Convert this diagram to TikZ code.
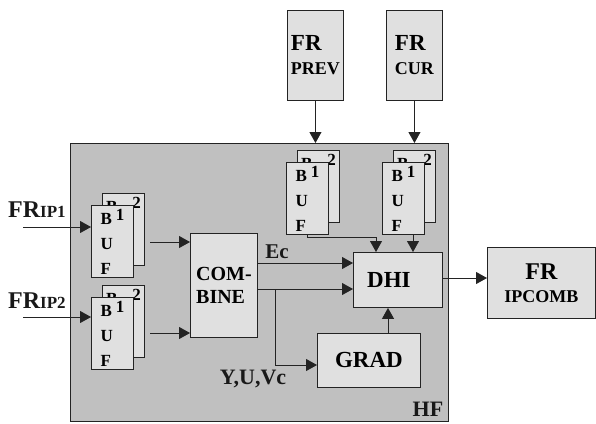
\documentclass[tikz,border=0pt]{standalone}
\usepackage{fontspec}
\setmainfont{Liberation Serif}
\usetikzlibrary{arrows.meta}
\definecolor{boxgray}{RGB}{224,224,224}
\definecolor{hfgray}{RGB}{192,192,192}
\definecolor{linecol}{RGB}{35,35,35}
\tikzset{
  fillbox/.style={draw=linecol, fill=boxgray, line width=0.9pt, inner sep=0pt, anchor=north west},
  bufbox/.style={fillbox, minimum width=42pt, minimum height=72pt, align=left,
    font=\bfseries\fontsize{17}{25}\selectfont},
  conn/.style={line width=0.9pt, draw=linecol, -{Triangle[length=11pt,width=12pt]}},
  lbl/.style={font=\bfseries\fontsize{21}{21}\selectfont, inner sep=0pt, text=black!90},
}
\newcommand\mybuf[3]{%
  \node[bufbox] (#1b) at ({#2+11},{#3-12}) {B\hspace{15pt}\raisebox{4pt}{2}\\\phantom{U}\\\phantom{F}};
  \node[bufbox] (#1f) at (#2,#3) {B\hspace{4pt}\raisebox{4pt}{1}\\U\\F};
}
\begin{document}
\begin{tikzpicture}[x=1pt,y=-1pt]
\useasboundingbox (0,0) rectangle (596,423);
% HF enclosure
\node[fillbox, fill=hfgray, minimum width=378pt, minimum height=278pt] (hf) at (70,143) {};
\node[lbl, font=\bfseries\fontsize{22}{22}\selectfont] (hflbl) at (428,409) {HF};
% frame sources
\node[fillbox, minimum width=56pt, minimum height=90pt, align=left,
  font=\bfseries\fontsize{23}{24}\selectfont] (prev) at (287,10)
  {FR\\{\fontsize{18}{18}\selectfont PREV}};
\node[fillbox, minimum width=56pt, minimum height=90pt, align=left,
  font=\bfseries\fontsize{23}{24}\selectfont] (cur) at (386,10)
  {FR\\{\fontsize{18}{18}\selectfont CUR}};
\node[fillbox, minimum width=108pt, minimum height=71pt, align=center,
  font=\bfseries\fontsize{24}{23}\selectfont] (ipc) at (487,247)
  {FR\\{\fontsize{18}{18}\selectfont IPCOMB}};
% buffers
\mybuf{P}{286}{162}
\mybuf{C}{382}{162}
\mybuf{La}{91}{205}
\mybuf{Lb}{91}{297}
% processing blocks
\node[fillbox, minimum width=67pt, minimum height=104pt, align=left,
  font=\bfseries\fontsize{20}{23}\selectfont] (comb) at (190,233) {COM-\\BINE};
\node[fillbox, minimum width=89pt, minimum height=55pt,
  font=\bfseries\fontsize{23}{23}\selectfont] (dhi) at (353,252) {DHI\kern18pt};
\node[fillbox, minimum width=103pt, minimum height=54pt,
  font=\bfseries\fontsize{23}{23}\selectfont] (grad) at (317,333) {GRAD};
% input labels
\node[lbl, anchor=base west, font=\bfseries\fontsize{24}{24}\selectfont] (ip1) at (8,217)
  {FR{\fontsize{17}{17}\selectfont IP1}};
\node[lbl, anchor=base west, font=\bfseries\fontsize{24}{24}\selectfont] (ip2) at (8,308)
  {FR{\fontsize{17}{17}\selectfont IP2}};
\node[lbl] (ec) at (277,252) {Ec};
\node[lbl, font=\bfseries\fontsize{22}{22}\selectfont] (yuv) at (253,379) {Y,U,Vc};
% connectors
\draw[conn] (prev.south) -- (prev.south |- hf.north);
\draw[conn] (cur.south) -- (cur.south |- hf.north);
\coordinate (in1) at (23,227);
\coordinate (in2) at (23,317);
\draw[conn] (in1) -- (in1 -| Laf.west);
\draw[conn] (in2) -- (in2 -| Lbf.west);
\coordinate (o1) at (150,242);
\coordinate (o2) at (150,333);
\draw[conn] (o1) -- (o1 -| comb.west);
\draw[conn] (o2) -- (o2 -| comb.west);
\draw[conn] (comb.east |- 0,263) -- (dhi.west |- 0,263);
\draw[conn] (comb.east |- 0,289) -- (dhi.west |- 0,289);
\coordinate (br) at (275,289);
\draw[conn] (br) |- (grad.west |- 0,365);
\draw[conn] (grad.north -| 388,0) -- (dhi.south -| 388,0);
\draw[conn] (Pf.south) -- ++(0,2.5) -| (dhi.north -| 376,0);
\draw[conn] (Cf.south -| 413,0) -- (dhi.north -| 413,0);
\draw[conn] (dhi.east |- 0,278) -- (ipc.west |- 0,278);
\end{tikzpicture}
\end{document}
